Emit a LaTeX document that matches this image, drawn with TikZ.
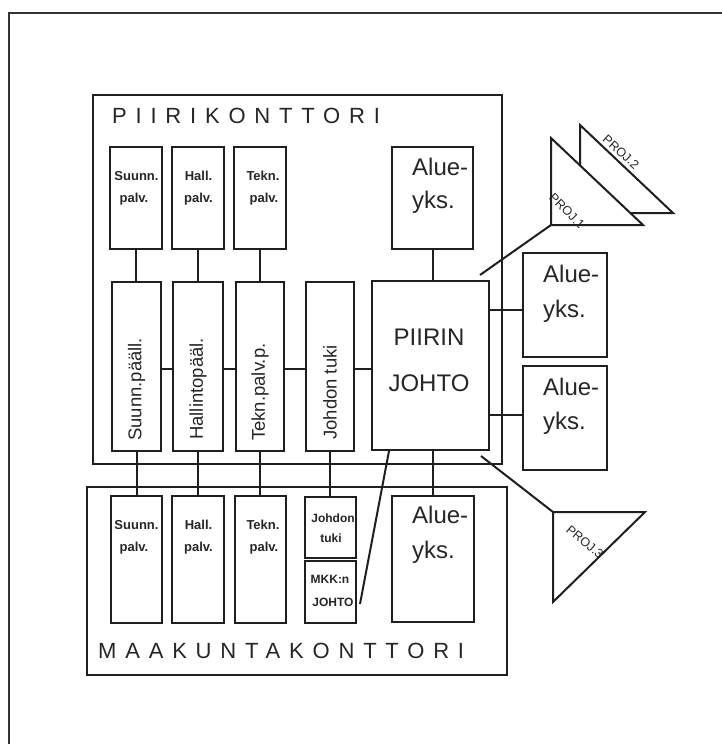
\documentclass[tikz,border=0pt]{standalone}
\usepackage{fontspec}
\setmainfont{Liberation Sans}
\newfontfamily\spaced[LetterSpace=40]{Liberation Sans}
\usetikzlibrary{calc}
\begin{document}
\begin{tikzpicture}[x=1pt,y=-1pt,
  box/.style={draw=black!88, line width=2pt, inner sep=0pt},
  ln/.style={draw=black!88, line width=2pt},
  small/.style={font=\bfseries\fontsize{13}{15}\selectfont, inner sep=0pt, anchor=base, text=black!85},
  big/.style={font=\fontsize{24}{28}\selectfont, inner sep=0pt, anchor=base west, text=black!85},
  vert/.style={font=\fontsize{18.5}{20}\selectfont, inner sep=0pt, rotate=90, anchor=west, text=black!85},
  ttl/.style={font=\spaced\fontsize{22}{26}\selectfont, inner sep=0pt, anchor=base west, text=black!85},
  proj/.style={font=\fontsize{12.5}{14}\selectfont, inner sep=0pt, text=black!85}]
\useasboundingbox (0,0) rectangle (721,744);
\fill[white] (0,0) rectangle (721,744);
% outer frame
\draw[line width=1.5pt, black!80] (9,760) -- (9,13) -- (740,13);
% office frames
\node[box, minimum width=409pt, minimum height=369pt] (pk) at (297.5,279.5) {};
\node[box, minimum width=420pt, minimum height=188pt] (mk) at (297,581) {};
\node[ttl] (pkt) at (112,123) {PIIRIKONTTORI};
\node[ttl] (mkt) at (98,658) {MAAKUNTAKONTTORI};
% top row
\node[box, minimum width=52pt, minimum height=102pt] (ts) at (136,198) {};
\node[box, minimum width=52pt, minimum height=102pt] (th) at (198,198) {};
\node[box, minimum width=52pt, minimum height=102pt] (tt) at (260,198) {};
\node[box, minimum width=81pt, minimum height=102pt] (ta) at (432.5,198) {};
\node[small] (ts1) at (136.5,180.5) {Suunn.};
\node[small] (ts2) at (134,202) {palv.};
\node[small] (th1) at (198.5,180.5) {Hall.};
\node[small] (th2) at (198.5,202) {palv.};
\node[small] (tt1) at (263,180.5) {Tekn.};
\node[small] (tt2) at (264,202) {palv.};
\node[big] (ta1) at (412,175) {Alue-};
\node[big] (ta2) at (412,208) {yks.};
% tall row
\node[box, minimum width=49pt, minimum height=169pt] (vs) at (136.5,366.5) {};
\node[box, minimum width=50pt, minimum height=169pt] (vh) at (198,366.5) {};
\node[box, minimum width=48pt, minimum height=169pt] (vt) at (260,366.5) {};
\node[box, minimum width=48pt, minimum height=169pt] (vj) at (330,366.5) {};
\node[box, minimum width=117pt, minimum height=169pt] (pj) at (430.5,365.5) {};
\node[vert] (vs1) at (136.5,441) {Suunn.pääll.};
\node[vert] (vh1) at (198,440) {Hallintopääl.};
\node[vert] (vt1) at (260,441) {Tekn.palv.p.};
\node[vert] (vj1) at (330,440) {Johdon tuki};
\node[big, anchor=base] (pj1) at (429,345) {PIIRIN};
\node[big, anchor=base] (pj2) at (429,391) {JOHTO};
% right boxes
\node[box, minimum width=84pt, minimum height=104pt] (ra1) at (565,305) {};
\node[box, minimum width=84pt, minimum height=104pt] (ra2) at (565,418) {};
\node[big] (ra11) at (543,282) {Alue-};
\node[big] (ra12) at (543,317) {yks.};
\node[big] (ra21) at (543,395) {Alue-};
\node[big] (ra22) at (543,429) {yks.};
% bottom row
\node[box, minimum width=51pt, minimum height=127pt] (bs) at (136.5,559.5) {};
\node[box, minimum width=52pt, minimum height=127pt] (bh) at (198,559.5) {};
\node[box, minimum width=51pt, minimum height=127pt] (bt) at (260.5,559.5) {};
\node[box, minimum width=51pt, minimum height=61pt] (bj1) at (330.5,527.5) {};
\node[box, minimum width=51pt, minimum height=62pt] (bj2) at (330.5,592) {};
\node[box, minimum width=82pt, minimum height=126pt] (ba) at (433,559) {};
\node[small] (bs1) at (136.5,529) {Suunn.};
\node[small] (bs2) at (134,551) {palv.};
\node[small] (bh1) at (198.5,529) {Hall.};
\node[small] (bh2) at (198.5,551) {palv.};
\node[small] (bt1) at (263,529) {Tekn.};
\node[small] (bt2) at (264,551) {palv.};
\node[small, font=\bfseries\fontsize{12}{14}\selectfont] (bj11) at (333,522) {Johdon};
\node[small, font=\bfseries\fontsize{12}{14}\selectfont] (bj12) at (331,542) {tuki};
\node[small, font=\bfseries\fontsize{12}{14}\selectfont] (bj21) at (330,583) {MKK:n};
\node[small, font=\bfseries\fontsize{12}{14}\selectfont] (bj22) at (333,606) {JOHTO};
\node[big] (ba1) at (412,523) {Alue-};
\node[big] (ba2) at (412,558) {yks.};
% connectors top -> tall
\draw[ln] (ts.south) -- (ts.south |- vs.north);
\draw[ln] (th.south) -- (th.south |- vh.north);
\draw[ln] (tt.south) -- (tt.south |- vt.north);
\draw[ln] (ta.south) -- (ta.south |- pj.north);
% horizontal chain
\coordinate (h1) at ([yshift=-2.5pt]vs.east);
\coordinate (h2) at ([yshift=-2.5pt]vh.east);
\coordinate (h3) at ([yshift=-2.5pt]vt.east);
\coordinate (h4) at ([yshift=-2.5pt]vj.east);
\draw[ln] (h1) -- (h1 -| vh.west);
\draw[ln] (h2) -- (h2 -| vt.west);
\draw[ln] (h3) -- (h3 -| vj.west);
\draw[ln] (h4) -- (h4 -| pj.west);
% to right boxes
\coordinate (r1) at ([yshift=-5pt]ra1.west);
\coordinate (r2) at ([yshift=3pt]ra2.west);
\draw[ln] (r1) -- (r1 -| pj.east);
\draw[ln] (r2) -- (r2 -| pj.east);
% tall -> bottom
\draw[ln] (vs.south) -- (vs.south |- bs.north);
\draw[ln] (vh.south) -- (vh.south |- bh.north);
\draw[ln] (vt.south) -- (vt.south |- bt.north);
\draw[ln] (vj.south) -- (vj.south |- bj1.north);
\draw[ln] (ba.north) -- (ba.north |- pj.south);
% slant to MKK:n JOHTO
\coordinate (sa) at ($(pj.south)+(-41.5,0)$);
\coordinate (sb) at ($(bj2.east)+(3,12)$);
\draw[ln] (sa) -- (sb);
% projects
\coordinate (p2a) at (580,125);
\coordinate (p2b) at (580,213);
\coordinate (p2c) at (673,213);
\coordinate (p1a) at (551,138);
\coordinate (p1b) at (551,225);
\coordinate (p1c) at (643,225);
\coordinate (p3a) at (553,512);
\coordinate (p3b) at (645,512);
\coordinate (p3c) at (553,602);
\draw[ln] ($(pj.north east)+(-10,-5)$) -- (p1b);
\draw[ln] ($(pj.south east)+(-9,5)$) -- (p3a);
\draw[ln, fill=white] (p2a) -- (p2b) -- (p2c) -- cycle;
\draw[ln, fill=white] (p1a) -- (p1b) -- (p1c) -- cycle;
\draw[ln, fill=white] (p3a) -- (p3b) -- (p3c) -- cycle;
\node[proj, rotate=-42] (pr2) at (621,152) {PROJ.2};
\node[proj, rotate=-45] (pr1) at (567,211) {PROJ.1};
\node[proj, rotate=-40] (pr3) at (585,542) {PROJ.3};
\end{tikzpicture}
\end{document}
